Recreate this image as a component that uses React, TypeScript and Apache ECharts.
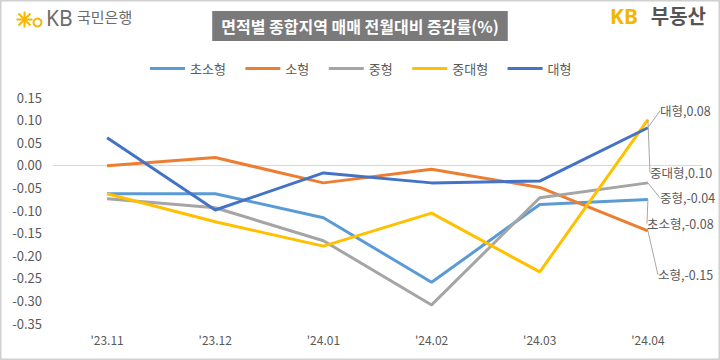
import React, { useEffect, useRef } from "react";
import * as echarts from "echarts";

const categories = ["'23.11", "'23.12", "'24.01", "'24.02", "'24.03", "'24.04"];
const seriesNames = ["초소형", "소형", "중형", "중대형", "대형"];
const verySmall = [-0.064, -0.064, -0.117, -0.26, -0.088, -0.077];
const small = [-0.002, 0.016, -0.04, -0.01, -0.05, -0.146];
const medium = [-0.075, -0.095, -0.168, -0.31, -0.073, -0.04];
const midLarge = [-0.064, -0.126, -0.18, -0.107, -0.237, 0.1];
const large = [0.06, -0.1, -0.018, -0.04, -0.036, 0.082];
const seriesValues = [verySmall, small, medium, midLarge, large];
const colors = ["#5B9BD5", "#ED7D31", "#A5A5A5", "#FFC000", "#4472C4"];
// label offsets (dx, dy) for the end labels
const labelOffsets = [
  [-6, 24],
  [5, 44],
  [7, 15],
  [-3, 53],
  [7, -17],
];

const FONT = "'Noto Sans CJK KR', 'Noto Sans', sans-serif";

export default function App() {
  const ref = useRef<HTMLDivElement>(null);
  useEffect(() => {
    if (!ref.current) return;
    const chart = echarts.init(ref.current, undefined, { renderer: "svg" });
    const last = categories.length - 1;
    const series: any[] = seriesNames.map((name, si) => ({
      name,
      type: "line",
      symbol: "circle",
      symbolSize: 0.1,
      showSymbol: true,
      z: 2 + si,
      lineStyle: { width: 3, color: colors[si] },
      itemStyle: { color: colors[si] },
      label: { show: false },
      labelLayout: (p: any) =>
        p.dataIndex === last
          ? { dx: labelOffsets[si][0], dy: labelOffsets[si][1] }
          : {},
      data: seriesValues[si].map((v, i) =>
        i === last
          ? {
              value: v,
              label: {
                show: true,
                position: "right",
                distance: 5,
                formatter: name + "," + v.toFixed(2),
                color: "#595959",
                fontSize: 12.5,
                fontFamily: FONT,
              },
              labelLine: {
                show: true,
                lineStyle: { color: "#A6A6A6", width: 1 },
              },
            }
          : v
      ),
      markLine:
        si === 0
          ? {
              silent: true,
              symbol: "none",
              label: { show: false },
              lineStyle: { color: "#D9D9D9", width: 1, type: "solid" },
              data: [{ yAxis: 0 }],
              z: 1,
            }
          : undefined,
    }));

    chart.setOption({
      animation: false,
      backgroundColor: "#ffffff",
      textStyle: { fontFamily: FONT },
      title: {
        text: "면적별 종합지역 매매 전월대비 증감률(%)",
        left: "center",
        top: 11,
        backgroundColor: "#7a7a7a",
        padding: [7, 9],
        textStyle: {
          color: "#ffffff",
          fontSize: 16,
          fontWeight: "bold",
          fontFamily: FONT,
        },
      },
      legend: {
        top: 57,
        left: "center",
        itemWidth: 35,
        itemHeight: 3,
        itemGap: 18,
        itemStyle: { opacity: 0 },
        lineStyle: { width: 3 },
        textStyle: { color: "#595959", fontSize: 13, fontFamily: FONT },
        data: seriesNames,
      },
      grid: { left: 53, right: 18, top: 97, bottom: 37 },
      xAxis: {
        type: "category",
        data: categories,
        boundaryGap: true,
        axisLine: { show: false },
        axisTick: { show: false },
        axisLabel: { color: "#595959", fontSize: 12, margin: 10, fontFamily: FONT },
      },
      yAxis: {
        type: "value",
        min: -0.35,
        max: 0.15,
        interval: 0.05,
        splitLine: { show: false },
        axisLine: { show: false },
        axisTick: { show: false },
        axisLabel: {
          color: "#595959",
          fontSize: 13,
          margin: 11,
          fontFamily: FONT,
          formatter: (v: number) => v.toFixed(2),
        },
      },
      graphic: [
        {
          type: "rect",
          shape: { x: 0.5, y: 0.5, width: 719, height: 359 },
          style: { fill: "none", stroke: "#D0D0D0", lineWidth: 2 },
          silent: true,
        },
        // KB star logo
        {
          type: "group",
          left: 14,
          top: 9,
          children: [
            { type: "line", shape: { x1: 8, y1: 0, x2: 8, y2: 16 }, style: { stroke: "#F5B800", lineWidth: 2 } },
            { type: "line", shape: { x1: 0, y1: 8, x2: 16, y2: 8 }, style: { stroke: "#F5B800", lineWidth: 2 } },
            { type: "line", shape: { x1: 2, y1: 2, x2: 14, y2: 14 }, style: { stroke: "#F5B800", lineWidth: 2 } },
            { type: "line", shape: { x1: 14, y1: 2, x2: 2, y2: 14 }, style: { stroke: "#F5B800", lineWidth: 2 } },
            { type: "circle", shape: { cx: 21, cy: 11, r: 4 }, style: { fill: "none", stroke: "#F5B800", lineWidth: 2 } },
          ],
        },
        {
          type: "text",
          left: 46,
          top: 7,
          style: { text: "KB", fill: "#6b6b6b", font: "21px 'Noto Sans', sans-serif" },
        },
        {
          type: "text",
          left: 77,
          top: 9,
          style: { text: "국민은행", fill: "#6b6b6b", font: "15px 'Noto Sans CJK KR'" },
        },
        {
          type: "text",
          right: 82,
          top: 5,
          style: { text: "KB", fill: "#F2B700", font: "bold 21px 'Noto Sans', sans-serif" },
        },
        {
          type: "text",
          right: 14,
          top: 5,
          style: { text: "부동산", fill: "#555555", font: "bold 20px 'Noto Sans CJK KR'" },
        },
      ],
      series,
    });
    return () => chart.dispose();
  }, []);
  return (
    <div
      ref={ref}
      style={{ position: "fixed", left: 0, top: 0, width: 720, height: 360 }}
    />
  );
}
